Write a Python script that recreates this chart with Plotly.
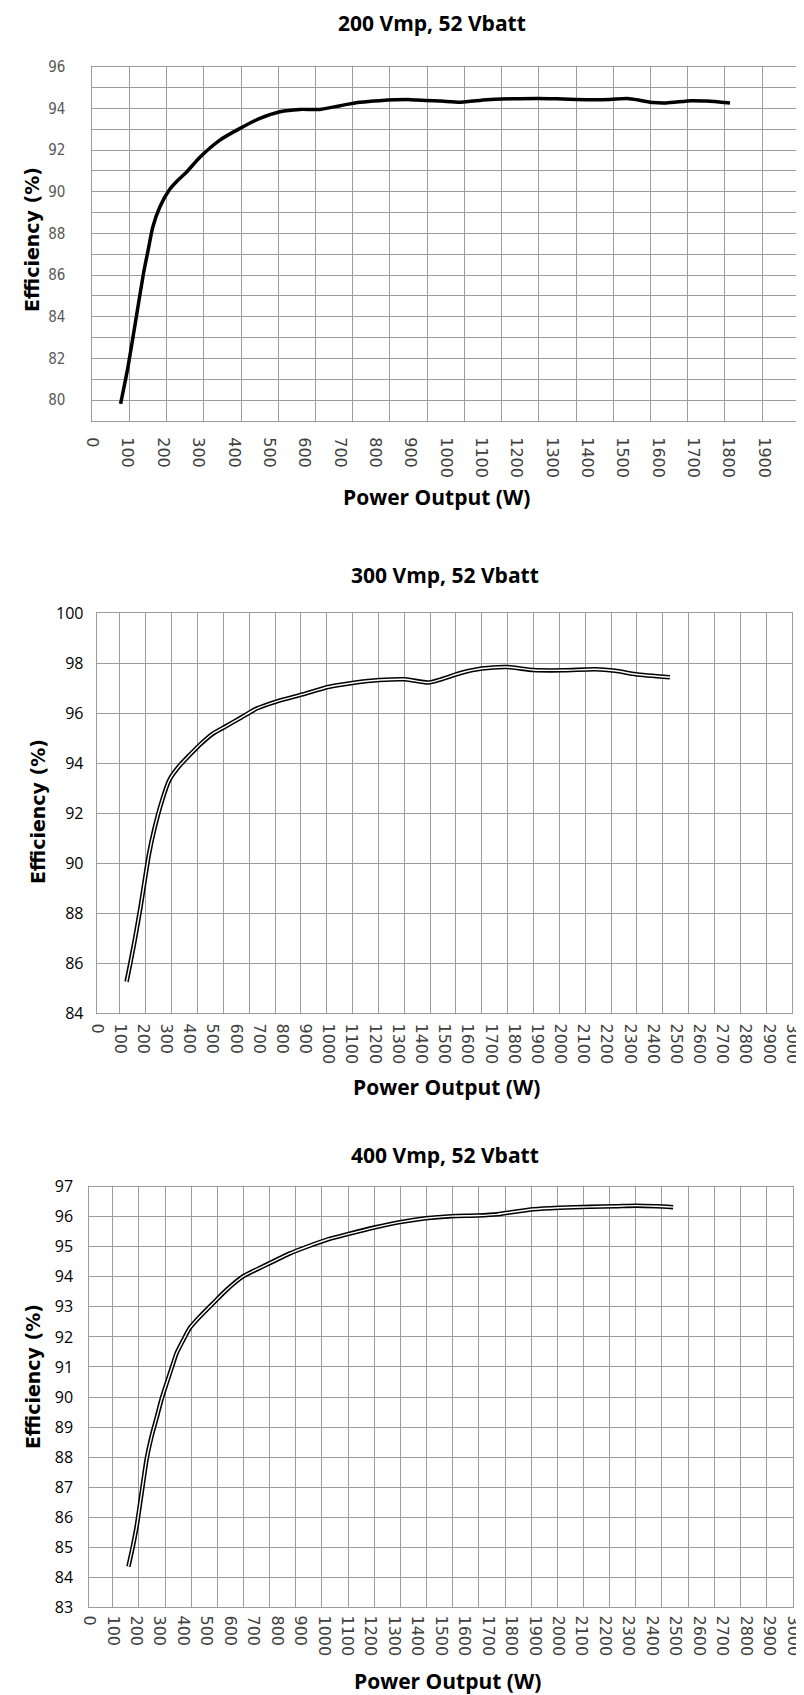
import plotly.graph_objects as go

# 200 Vmp, 52 Vbatt
p200 = [80, 101, 123, 145, 158, 171, 191, 219, 240, 267, 305, 361, 418, 474, 531, 587,
        644, 701, 757, 812, 899, 986, 1043, 1116, 1188, 1261, 1333, 1406, 1464, 1514,
        1551, 1587, 1623, 1696, 1739, 1804]
eff200 = [79.82, 81.6, 83.84, 86.1, 87.2, 88.3, 89.27, 90.12, 90.52, 90.95, 91.67, 92.48,
          93.04, 93.52, 93.84, 93.95, 93.95, 94.13, 94.29, 94.37, 94.42, 94.35, 94.3, 94.42,
          94.46, 94.48, 94.45, 94.42, 94.43, 94.47, 94.38, 94.28, 94.26, 94.37, 94.35, 94.26]

# 300 Vmp, 52 Vbatt
p300 = [129, 145, 164, 190, 225, 248, 281, 314, 358, 402, 447, 502, 557, 623, 690, 778,
        889, 999, 1110, 1220, 1331, 1430, 1486, 1574, 1662, 1773, 1884, 2016, 2149, 2237,
        2326, 2473]
eff300 = [85.26, 86.0, 86.92, 88.3, 90.34, 91.34, 92.48, 93.34, 93.91, 94.34, 94.76, 95.19,
          95.48, 95.83, 96.19, 96.48, 96.76, 97.05, 97.22, 97.33, 97.36, 97.23, 97.36, 97.62,
          97.79, 97.85, 97.73, 97.72, 97.76, 97.70, 97.56, 97.44]

# 400 Vmp, 52 Vbatt
p400 = [167, 185, 202, 223, 245, 266, 287, 309, 330, 351, 373, 401, 429, 472, 529, 586,
        657, 742, 856, 931, 1018, 1106, 1215, 1325, 1434, 1544, 1653, 1741, 1807, 1894,
        2004, 2135, 2245, 2332, 2420, 2490]
eff400 = [84.36, 85.0, 85.69, 86.8, 87.95, 88.7, 89.3, 89.95, 90.46, 90.96, 91.47, 91.9,
          92.3, 92.68, 93.13, 93.57, 94.02, 94.35, 94.78, 95.01, 95.25, 95.43, 95.64, 95.82,
          95.95, 96.02, 96.04, 96.08, 96.16, 96.25, 96.30, 96.33, 96.35, 96.37, 96.35, 96.32]

titles = ["200 Vmp, 52 Vbatt", "300 Vmp, 52 Vbatt", "400 Vmp, 52 Vbatt"]
xTitle = "Power Output (W)"
yTitle = "Efficiency (%)"

# page is 804x1695; the plot div sits inside the 8px body margin
PAD = 8
W, H = 804 - PAD, 1695 - PAD
GRID = "#9c9c9c"

def fx(p):
    return (p - PAD) / W

def fy(p):
    return 1 - (p - PAD) / H

# page-pixel boxes of the three plot areas: (left, right, top, bottom)
boxes = [(92.3, 799.3, 66.7, 421), (96.7, 792, 613.3, 1013.3), (89.3, 792.7, 1186.7, 1607.3)]

fig = go.Figure()

# chart 1 : plain thick line
fig.add_trace(go.Scatter(x=p200, y=eff200, mode="lines", xaxis="x", yaxis="y",
                         line=dict(color="black", width=3.5, shape="spline", smoothing=0.6),
                         hoverinfo="skip"))
# charts 2 and 3 : outlined (double) line
for xs, ys, xa, ya in [(p300, eff300, "x2", "y2"), (p400, eff400, "x3", "y3")]:
    fig.add_trace(go.Scatter(x=xs, y=ys, mode="lines", xaxis=xa, yaxis=ya,
                             line=dict(color="black", width=4.5, shape="spline", smoothing=0.6),
                             hoverinfo="skip"))
    fig.add_trace(go.Scatter(x=xs, y=ys, mode="lines", xaxis=xa, yaxis=ya,
                             line=dict(color="white", width=1.4, shape="spline", smoothing=0.6),
                             hoverinfo="skip"))
# dummy traces for the grid-only overlay axes
for xa, ya in [("x4", "y"), ("x5", "y2"), ("x6", "y3")]:
    fig.add_trace(go.Scatter(x=[None], y=[None], xaxis=xa, yaxis=ya, mode="lines",
                             hoverinfo="skip"))

xtickfont = dict(family="DejaVu Sans", size=16, color="#404040")

def xLabelAxis(box, xmax, anchor, standoff):
    return dict(domain=[fx(box[0]), fx(box[1])], anchor=anchor, range=[0, xmax],
                tickvals=list(range(0, xmax + 1, 100)), tickangle=90, showgrid=False,
                zeroline=False, showline=True, mirror=True, linecolor=GRID, linewidth=1,
                ticks="", tickfont=xtickfont, ticklabelstandoff=standoff, automargin=False)

def xGridAxis(rng, over, anchor):
    return dict(overlaying=over, anchor=anchor, range=rng, dtick=1, tick0=0,
                showgrid=True, gridcolor=GRID, gridwidth=1, showticklabels=False,
                ticks="", zeroline=False, showline=False, automargin=False)

def yAxis(box, rng, vals, text, font, anchor, standoff):
    return dict(domain=[fy(box[3]), fy(box[2])], anchor=anchor, range=rng,
                tickvals=vals, ticktext=text, showgrid=True, gridcolor=GRID, gridwidth=1,
                zeroline=False, showline=True, mirror=True, linecolor=GRID, linewidth=1,
                ticks="", tickfont=font, ticklabelstandoff=standoff, automargin=False)

y1vals = list(range(79, 97))
y1text = [str(v) if v % 2 == 0 else "" for v in y1vals]
y2vals = list(range(84, 101, 2))
y3vals = list(range(83, 98))

fig.update_layout(
    width=W, height=H, margin=dict(l=0, r=0, t=0, b=0, autoexpand=False),
    paper_bgcolor="white", plot_bgcolor="white", showlegend=False,
    xaxis=xLabelAxis(boxes[0], 2000, "y", 12),
    xaxis2=xLabelAxis(boxes[1], 3000, "y2", 6),
    xaxis3=xLabelAxis(boxes[2], 3000, "y3", 4),
    xaxis4=xGridAxis([0, 19], "x", "y"),
    xaxis5=xGridAxis([0.1, 27], "x2", "y2"),
    xaxis6=xGridAxis([0.105, 27], "x3", "y3"),
    yaxis=yAxis(boxes[0], [79, 96], y1vals, y1text,
                dict(family="Liberation Sans Narrow, DejaVu Sans Condensed, sans-serif",
                     size=15, color="#595959"), "x", 23),
    yaxis2=yAxis(boxes[1], [84, 100], y2vals, [str(v) for v in y2vals],
                 dict(family="Open Sans", size=16, color="black"), "x2", 9),
    yaxis3=yAxis(boxes[2], [83, 97], y3vals, [str(v) for v in y3vals],
                 dict(family="Open Sans", size=16, color="black"), "x3", 12),
)

annos = []
titleFont = dict(family="Open Sans", size=21, color="black")
yFont = dict(family="DejaVu Sans", size=19, color="black")
for t, (tx, ty) in zip(titles, [(432, 23), (445, 575), (445, 1155)]):
    annos.append(dict(text=f"<b>{t}</b>", x=fx(tx), y=fy(ty), xref="paper", yref="paper",
                      showarrow=False, font=titleFont, xanchor="center", yanchor="middle"))
for (tx, ty) in [(436, 497), (446, 1087), (447, 1681)]:
    annos.append(dict(text=f"<b>{xTitle}</b>", x=fx(tx), y=fy(ty), xref="paper", yref="paper",
                      showarrow=False, font=titleFont, xanchor="center", yanchor="middle"))
for (tx, ty) in [(32, 240), (38, 812), (33, 1377)]:
    annos.append(dict(text=f"<b>{yTitle}</b>", x=fx(tx), y=fy(ty), xref="paper", yref="paper",
                      showarrow=False, font=yFont, textangle=-90,
                      xanchor="center", yanchor="middle"))
fig.update_layout(annotations=annos)

fig.write_html("out.html")
